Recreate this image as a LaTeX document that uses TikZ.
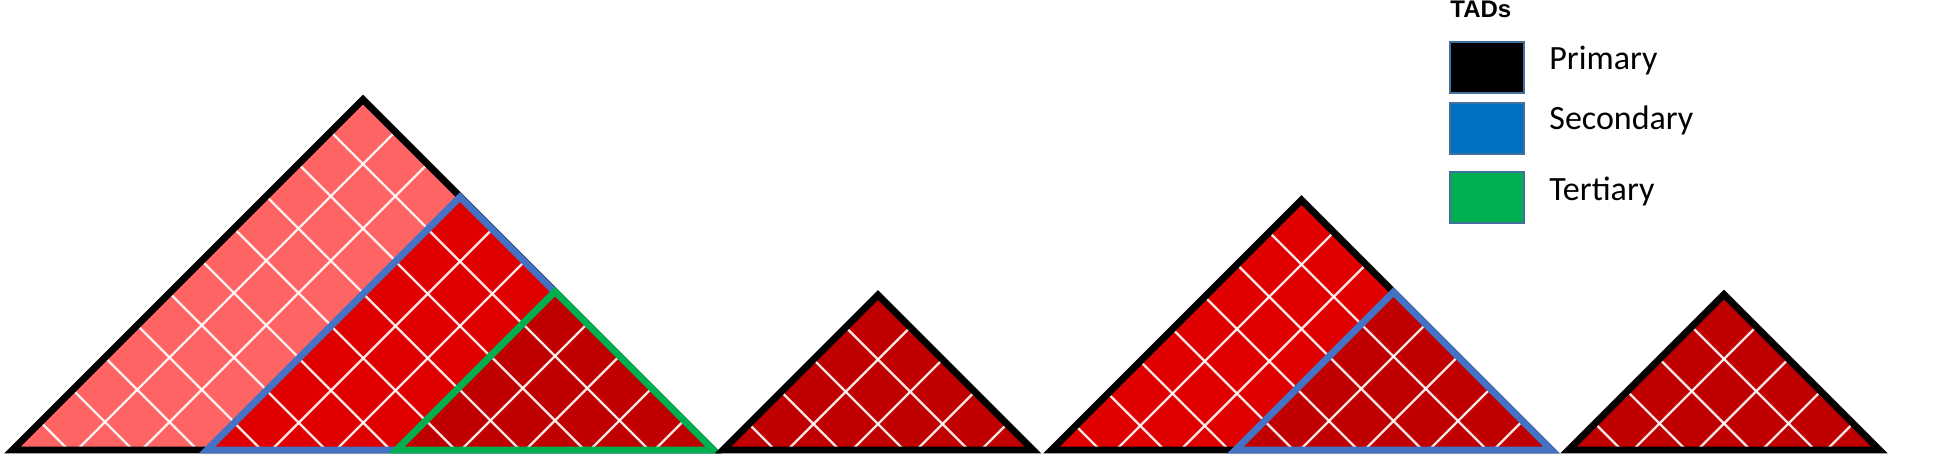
\documentclass[tikz,border=0pt]{standalone}
\usepackage{fontspec}
\setmainfont{Carlito}
\newfontfamily\tadhead{Liberation Sans}
\definecolor{tadlight}{HTML}{FF6464}
\definecolor{tadmid}{HTML}{E00000}
\definecolor{taddark}{HTML}{C00000}
\definecolor{tadblue}{HTML}{4472C4}
\definecolor{tadgreen}{HTML}{00B050}
\definecolor{legblue}{HTML}{0070C0}
\definecolor{legborder}{HTML}{41719C}
\tikzset{
  gridline/.style={draw=white, line width=1.1pt, opacity=0.9},
  tadline/.style={line width=3.4pt, miter limit=20, line join=miter},
  legbox/.style={draw=legborder, line width=0.8pt, minimum width=37pt, minimum height=25.5pt, inner sep=0, anchor=north west},
  leglabel/.style={font=\fontsize{17}{20}\selectfont, inner sep=0, anchor=base west},
}
% #1 apex x, #2 apex y, #3 fill colour, #4 outline colour
\newcommand\tadtri[4]{%
  \pgfmathsetmacro\tadh{450-#2}%
  \fill[#3] ({#1-\tadh},450) -- (#1,#2) -- ({#1+\tadh},450) -- cycle;
  \begin{scope}
    \clip ({#1-\tadh},450) -- (#1,#2) -- ({#1+\tadh},450) -- cycle;
    \foreach \k in {1,...,11}{%
      \pgfmathsetmacro\tadc{#1+#2+64.5*\k}%
      \pgfmathsetmacro\tadd{#1-#2-64.5*\k}%
      \draw[gridline] ({\tadc-460},460) -- ({\tadc-#2+10},{#2-10});
      \draw[gridline] ({\tadd+460},460) -- ({\tadd+#2-10},{#2-10});
    }
  \end{scope}
  \draw[tadline,draw=#4] ({#1-\tadh},450) -- (#1,#2) -- ({#1+\tadh},450) -- cycle;
}
\begin{document}
\begin{tikzpicture}[x=0.5pt,y=-0.5pt]
\useasboundingbox (0,0) rectangle (1950,458);
% first group
\tadtri{363}{99.5}{tadlight}{black}
\tadtri{460}{197}{tadmid}{tadblue}
\tadtri{555}{291.5}{taddark}{tadgreen}
% second
\tadtri{878}{295}{taddark}{black}
% third group
\tadtri{1301.5}{200}{tadmid}{black}
\tadtri{1393.5}{292}{taddark}{tadblue}
% fourth
\tadtri{1724}{294.5}{taddark}{black}
% legend
\node[anchor=base west, inner sep=0, font=\tadhead\bfseries\fontsize{12}{14}\selectfont] (tads) at (1450,17.5) {TADs};
\node[legbox, fill=black] (sqp) at (1449,41) {};
\node[legbox, fill=legblue] (sqs) at (1449,102.5) {};
\node[legbox, fill=tadgreen] (sqt) at (1449,171) {};
\node[leglabel] (lp) at (1549,70) {Primary};
\node[leglabel] (ls) at (1549,130) {Secondary};
\node[leglabel] (lt) at (1549,201) {Tertiary};
\end{tikzpicture}
\end{document}
